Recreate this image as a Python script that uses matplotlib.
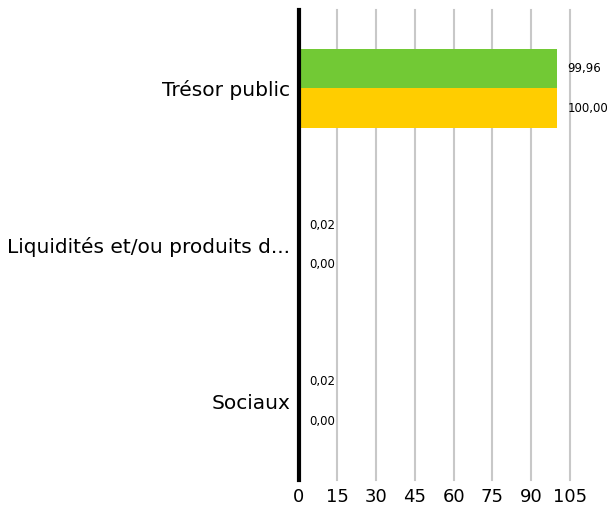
import matplotlib.pyplot as plt
import numpy as np

categories = ["Trésor public", "Liquidités et/ou produits d...", "Sociaux"]
serie_verte = [99.96, 0.02, 0.02]
serie_jaune = [100.00, 0.00, 0.00]
xticks = [0, 15, 30, 45, 60, 75, 90, 105]

vert = '#72C935'
jaune = '#FFCD00'

fig = plt.figure(figsize=(6.16, 5.11), dpi=100)
ax = fig.add_axes([0.485, 0.061, 0.44, 0.919])

y = np.arange(len(categories))
h = 0.25
ax.barh(y - h / 2, serie_verte, height=h, color=vert, zorder=3)
ax.barh(y + h / 2, serie_jaune, height=h, color=jaune, zorder=3)

# etiquettes des valeurs
for i in range(len(categories)):
    ax.text(serie_verte[i] + 4, y[i] - h / 2, f"{serie_verte[i]:.2f}".replace('.', ','),
            va='center', ha='left', fontsize=8.5)
    ax.text(serie_jaune[i] + 4, y[i] + h / 2, f"{serie_jaune[i]:.2f}".replace('.', ','),
            va='center', ha='left', fontsize=8.5)

ax.set_xlim(0, 105)
ax.set_ylim(2.5, -0.5)
ax.set_xticks(xticks)
ax.set_xticklabels([str(t) for t in xticks], fontsize=13)
ax.set_yticks(y)
ax.set_yticklabels(categories, fontsize=14.5)
ax.tick_params(length=0, pad=6)

for t in xticks[1:]:
    ax.axvline(t, color='#C8C8C8', linewidth=1.5, zorder=1, clip_on=False)

for s in ['top', 'right', 'bottom']:
    ax.spines[s].set_visible(False)
ax.spines['left'].set_linewidth(3)
ax.spines['left'].set_zorder(4)

plt.savefig('out.png', dpi=100)
